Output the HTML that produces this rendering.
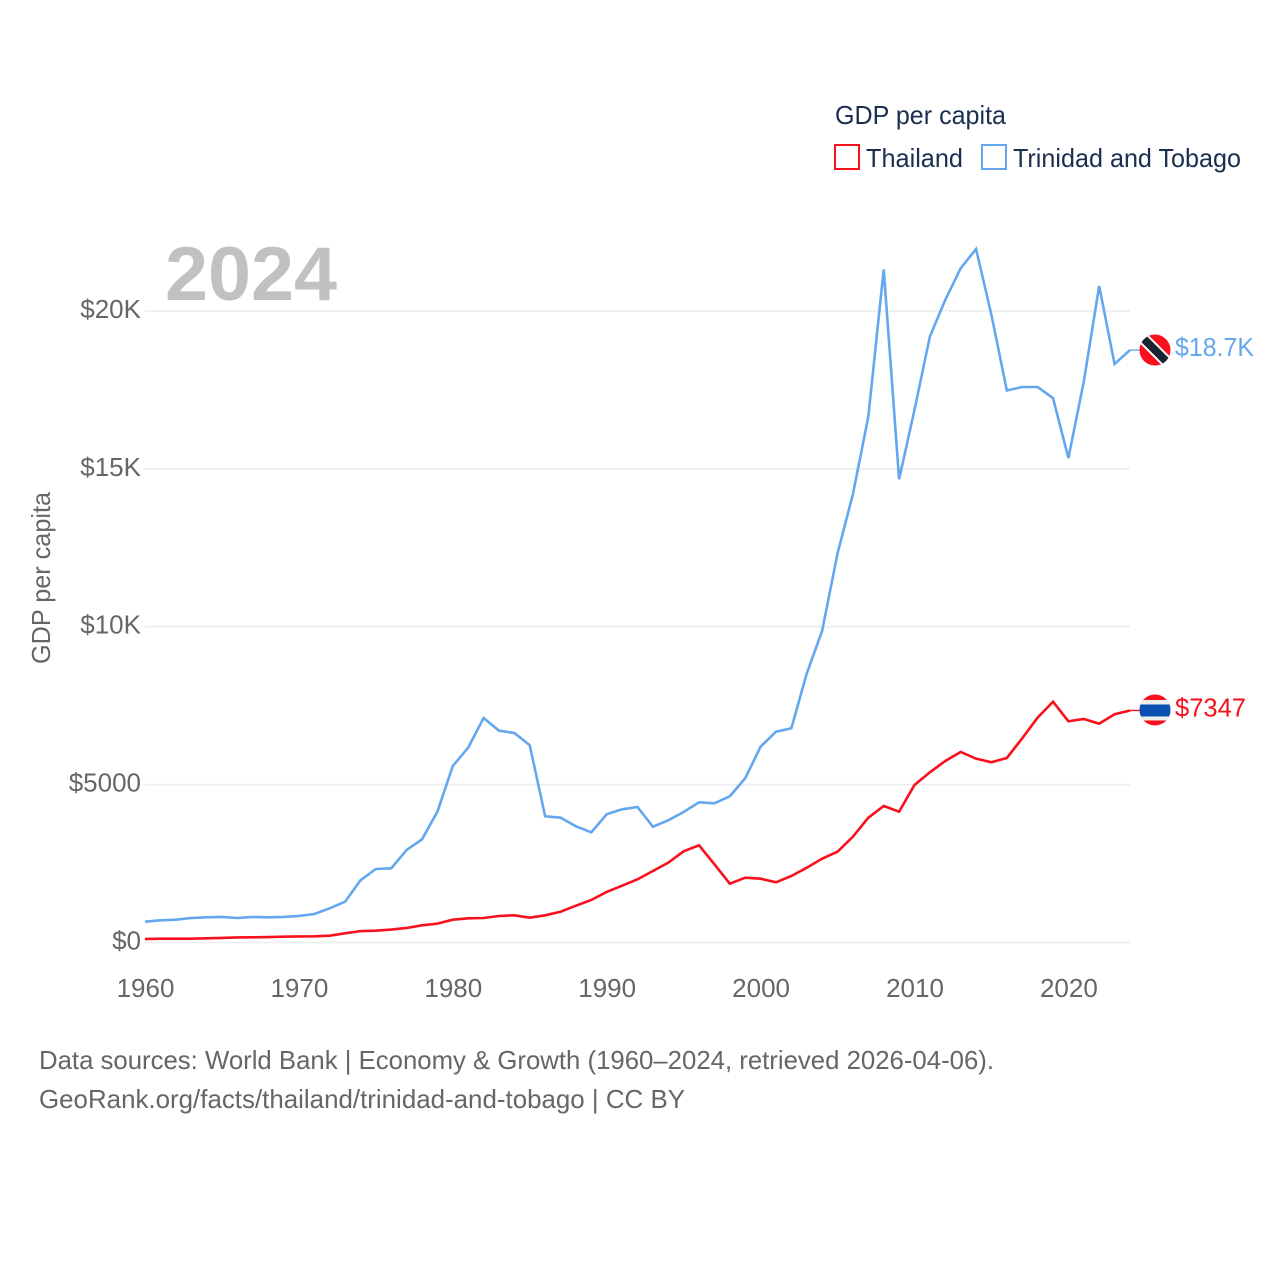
<!DOCTYPE html>
<html lang="en">
<head>
<meta charset="utf-8">
<title>GDP per capita: Thailand and Trinidad and Tobago</title>
<style>
html,body{margin:0;padding:0;background:#fff;}
svg{display:block;}
text{font-family:"Liberation Sans",sans-serif;}
</style>
</head>
<body>
<svg id="chart" xmlns="http://www.w3.org/2000/svg" width="1280" height="1280" viewBox="0 0 1280 1280">
  <defs>
    <clipPath id="clip-tt"><circle cx="0" cy="0" r="15.5"></circle></clipPath>
    <clipPath id="clip-th"><circle cx="0" cy="0" r="15.5"></circle></clipPath>
  </defs>
  <rect x="0" y="0" width="1280" height="1280" fill="#ffffff"></rect>
  <g id="grid"></g>
  <g id="y-axis"></g>
  <g id="x-axis"></g>
  <text x="165" y="300" font-size="76" font-weight="700" fill="#c1c1c1" textLength="172" lengthAdjust="spacingAndGlyphs">2024</text>
  <text transform="translate(50,578) rotate(-90)" text-anchor="middle" font-size="26" fill="#666666" textLength="172" lengthAdjust="spacingAndGlyphs">GDP per capita</text>
  <g id="series"></g>
  <g id="flag-tt">
    <g clip-path="url(#clip-tt)">
      <rect x="-16" y="-16" width="32" height="32" fill="#f8101c"></rect>
      <line x1="-17" y1="-17" x2="17" y2="17" stroke="#ffffff" stroke-width="12"></line>
      <line x1="-17" y1="-17" x2="17" y2="17" stroke="#1b2433" stroke-width="8"></line>
    </g>
  </g>
  <g id="flag-th">
    <g clip-path="url(#clip-th)">
      <rect x="-16" y="-16" width="32" height="32" fill="#f8101c"></rect>
      <rect x="-16" y="-10" width="32" height="20.5" fill="#eeeeee"></rect>
      <rect x="-16" y="-5.5" width="32" height="12" fill="#0a50b0"></rect>
    </g>
  </g>
  <g id="end-labels"></g>

  <g>
    <text x="835" y="124" font-size="26" fill="#1a2e4f" textLength="171" lengthAdjust="spacingAndGlyphs">GDP per capita</text>
    <g>
      <rect x="835" y="145" width="24" height="24" fill="none" stroke="#f8101c" stroke-width="2"></rect>
      <text x="866" y="167" font-size="26" fill="#1a2e4f" textLength="97" lengthAdjust="spacingAndGlyphs">Thailand</text>
    </g>
    <g>
      <rect x="982" y="145" width="24" height="24" fill="none" stroke="#64a7ee" stroke-width="2"></rect>
      <text x="1013" y="167" font-size="26" fill="#1a2e4f" textLength="228" lengthAdjust="spacingAndGlyphs">Trinidad and Tobago</text>
    </g>
  </g>

  <text x="39" y="1069" font-size="26" fill="#666666" textLength="955" lengthAdjust="spacingAndGlyphs">Data sources: World Bank | Economy &amp; Growth (1960–2024, retrieved 2026-04-06).</text>
  <text x="39" y="1108" font-size="26" fill="#666666" textLength="646" lengthAdjust="spacingAndGlyphs">GeoRank.org/facts/thailand/trinidad-and-tobago | CC BY</text>
</svg>

<script>
const startYear = 1960;
const xTickYears = [1960, 1970, 1980, 1990, 2000, 2010, 2020];
const xTickLabels = ["1960", "1970", "1980", "1990", "2000", "2010", "2020"];
const yTickValues = [0, 5000, 10000, 15000, 20000];
const yTickLabels = ["$0", "$5000", "$10K", "$15K", "$20K"];

const thailandValues = [
  111, 120, 120, 122, 133, 145, 160, 165, 172, 184,
  192, 195, 217, 291, 360, 375, 410, 460, 545, 598,
  722, 766, 776, 839, 861, 785, 861, 975, 1165, 1346,
  1600, 1800, 2000, 2265, 2528, 2888, 3078, 2476, 1862, 2052,
  2020, 1906, 2106, 2369, 2654, 2876, 3351, 3953, 4323, 4143,
  4988, 5390, 5748, 6033, 5821, 5707, 5843, 6467, 7120, 7626,
  7005, 7078, 6930, 7227, 7347
];
const trinidadValues = [
  658, 703, 722, 776, 798, 808, 776, 808, 798, 808,
  839, 903, 1083, 1292, 1970, 2328, 2350, 2930, 3268, 4143,
  5590, 6170, 7110, 6708, 6635, 6245, 3997, 3953, 3680, 3490,
  4060, 4218, 4291, 3668, 3869, 4133, 4440, 4408, 4630, 5200,
  6200, 6676, 6783, 8520, 9870, 12320, 14200, 16650, 21310, 14670,
  16870, 19190, 20350, 21350, 21960, 19870, 17480, 17590, 17590, 17240,
  15340, 17760, 20790, 18320, 18760
];
const thailandEndLabel = "$7347";
const trinidadEndLabel = "$18.7K";

const svgNS = "http://www.w3.org/2000/svg";
function xScale(year) { return 145 + (year - 1960) * 15.39; }
function yScale(value) { return 942.5 - value * 0.03158; }
function make(tag, attrs, parent) {
  const el = document.createElementNS(svgNS, tag);
  for (const k in attrs) el.setAttribute(k, attrs[k]);
  parent.appendChild(el);
  return el;
}
const grid = document.getElementById("grid");
const yAxis = document.getElementById("y-axis");
const xAxis = document.getElementById("x-axis");
const seriesGroup = document.getElementById("series");
const endLabels = document.getElementById("end-labels");

yTickValues.forEach(function (v, i) {
  const line = make("line", { x1: 145, x2: 1130, y1: yScale(v), y2: yScale(v), stroke: "#eeeeee", "stroke-width": 1.8 }, grid);
  
  
  const label = make("text", { x: 141, y: yScale(v) + 7, "text-anchor": "end", "font-size": 26, fill: "#666666" }, yAxis);
  label.textContent = yTickLabels[i];
  
  
});

xTickYears.forEach(function (yr, i) {
  const label = make("text", { x: xScale(yr) + 0.5, y: 997, "text-anchor": "middle", "font-size": 26, fill: "#666666" }, xAxis);
  label.textContent = xTickLabels[i];
  
  
});

function pathFor(values) {
  return values.map(function (v, i) {
    return (i ? "L" : "M") + xScale(startYear + i).toFixed(2) + " " + yScale(v).toFixed(2);
  }).join(" ");
}
function lastPoint(values) {
  const i = values.length - 1;
  return { x: xScale(startYear + i), y: yScale(values[i]) };
}

const trinidadLine = make("path", { d: pathFor(trinidadValues), fill: "none", stroke: "#64a7ee", "stroke-width": 2.6, "stroke-linejoin": "miter" }, seriesGroup);


const thailandLine = make("path", { d: pathFor(thailandValues), fill: "none", stroke: "#f8101c", "stroke-width": 2.6, "stroke-linejoin": "miter" }, seriesGroup);



const endTT = lastPoint(trinidadValues);
const endTH = lastPoint(thailandValues);

const leaderTT = make("line", { x1: endTT.x, x2: 1142, y1: endTT.y, y2: endTT.y, stroke: "#64a7ee", "stroke-width": 1.4 }, seriesGroup);


const leaderTH = make("line", { x1: endTH.x, x2: 1142, y1: endTH.y, y2: endTH.y, stroke: "#f8101c", "stroke-width": 1.4 }, seriesGroup);



document.getElementById("flag-tt").setAttribute("transform", "translate(1155," + endTT.y + ")");
document.getElementById("flag-th").setAttribute("transform", "translate(1155," + (endTH.y - 0.5) + ")");

const labelTT = make("text", { x: 1175, y: endTT.y + 6, "font-size": 26, fill: "#64a7ee", textLength: 79, lengthAdjust: "spacingAndGlyphs" }, endLabels);
labelTT.textContent = trinidadEndLabel;


const labelTH = make("text", { x: 1175, y: endTH.y + 6, "font-size": 26, fill: "#f8101c", textLength: 71, lengthAdjust: "spacingAndGlyphs" }, endLabels);
labelTH.textContent = thailandEndLabel;


</script>
</body>
</html>
